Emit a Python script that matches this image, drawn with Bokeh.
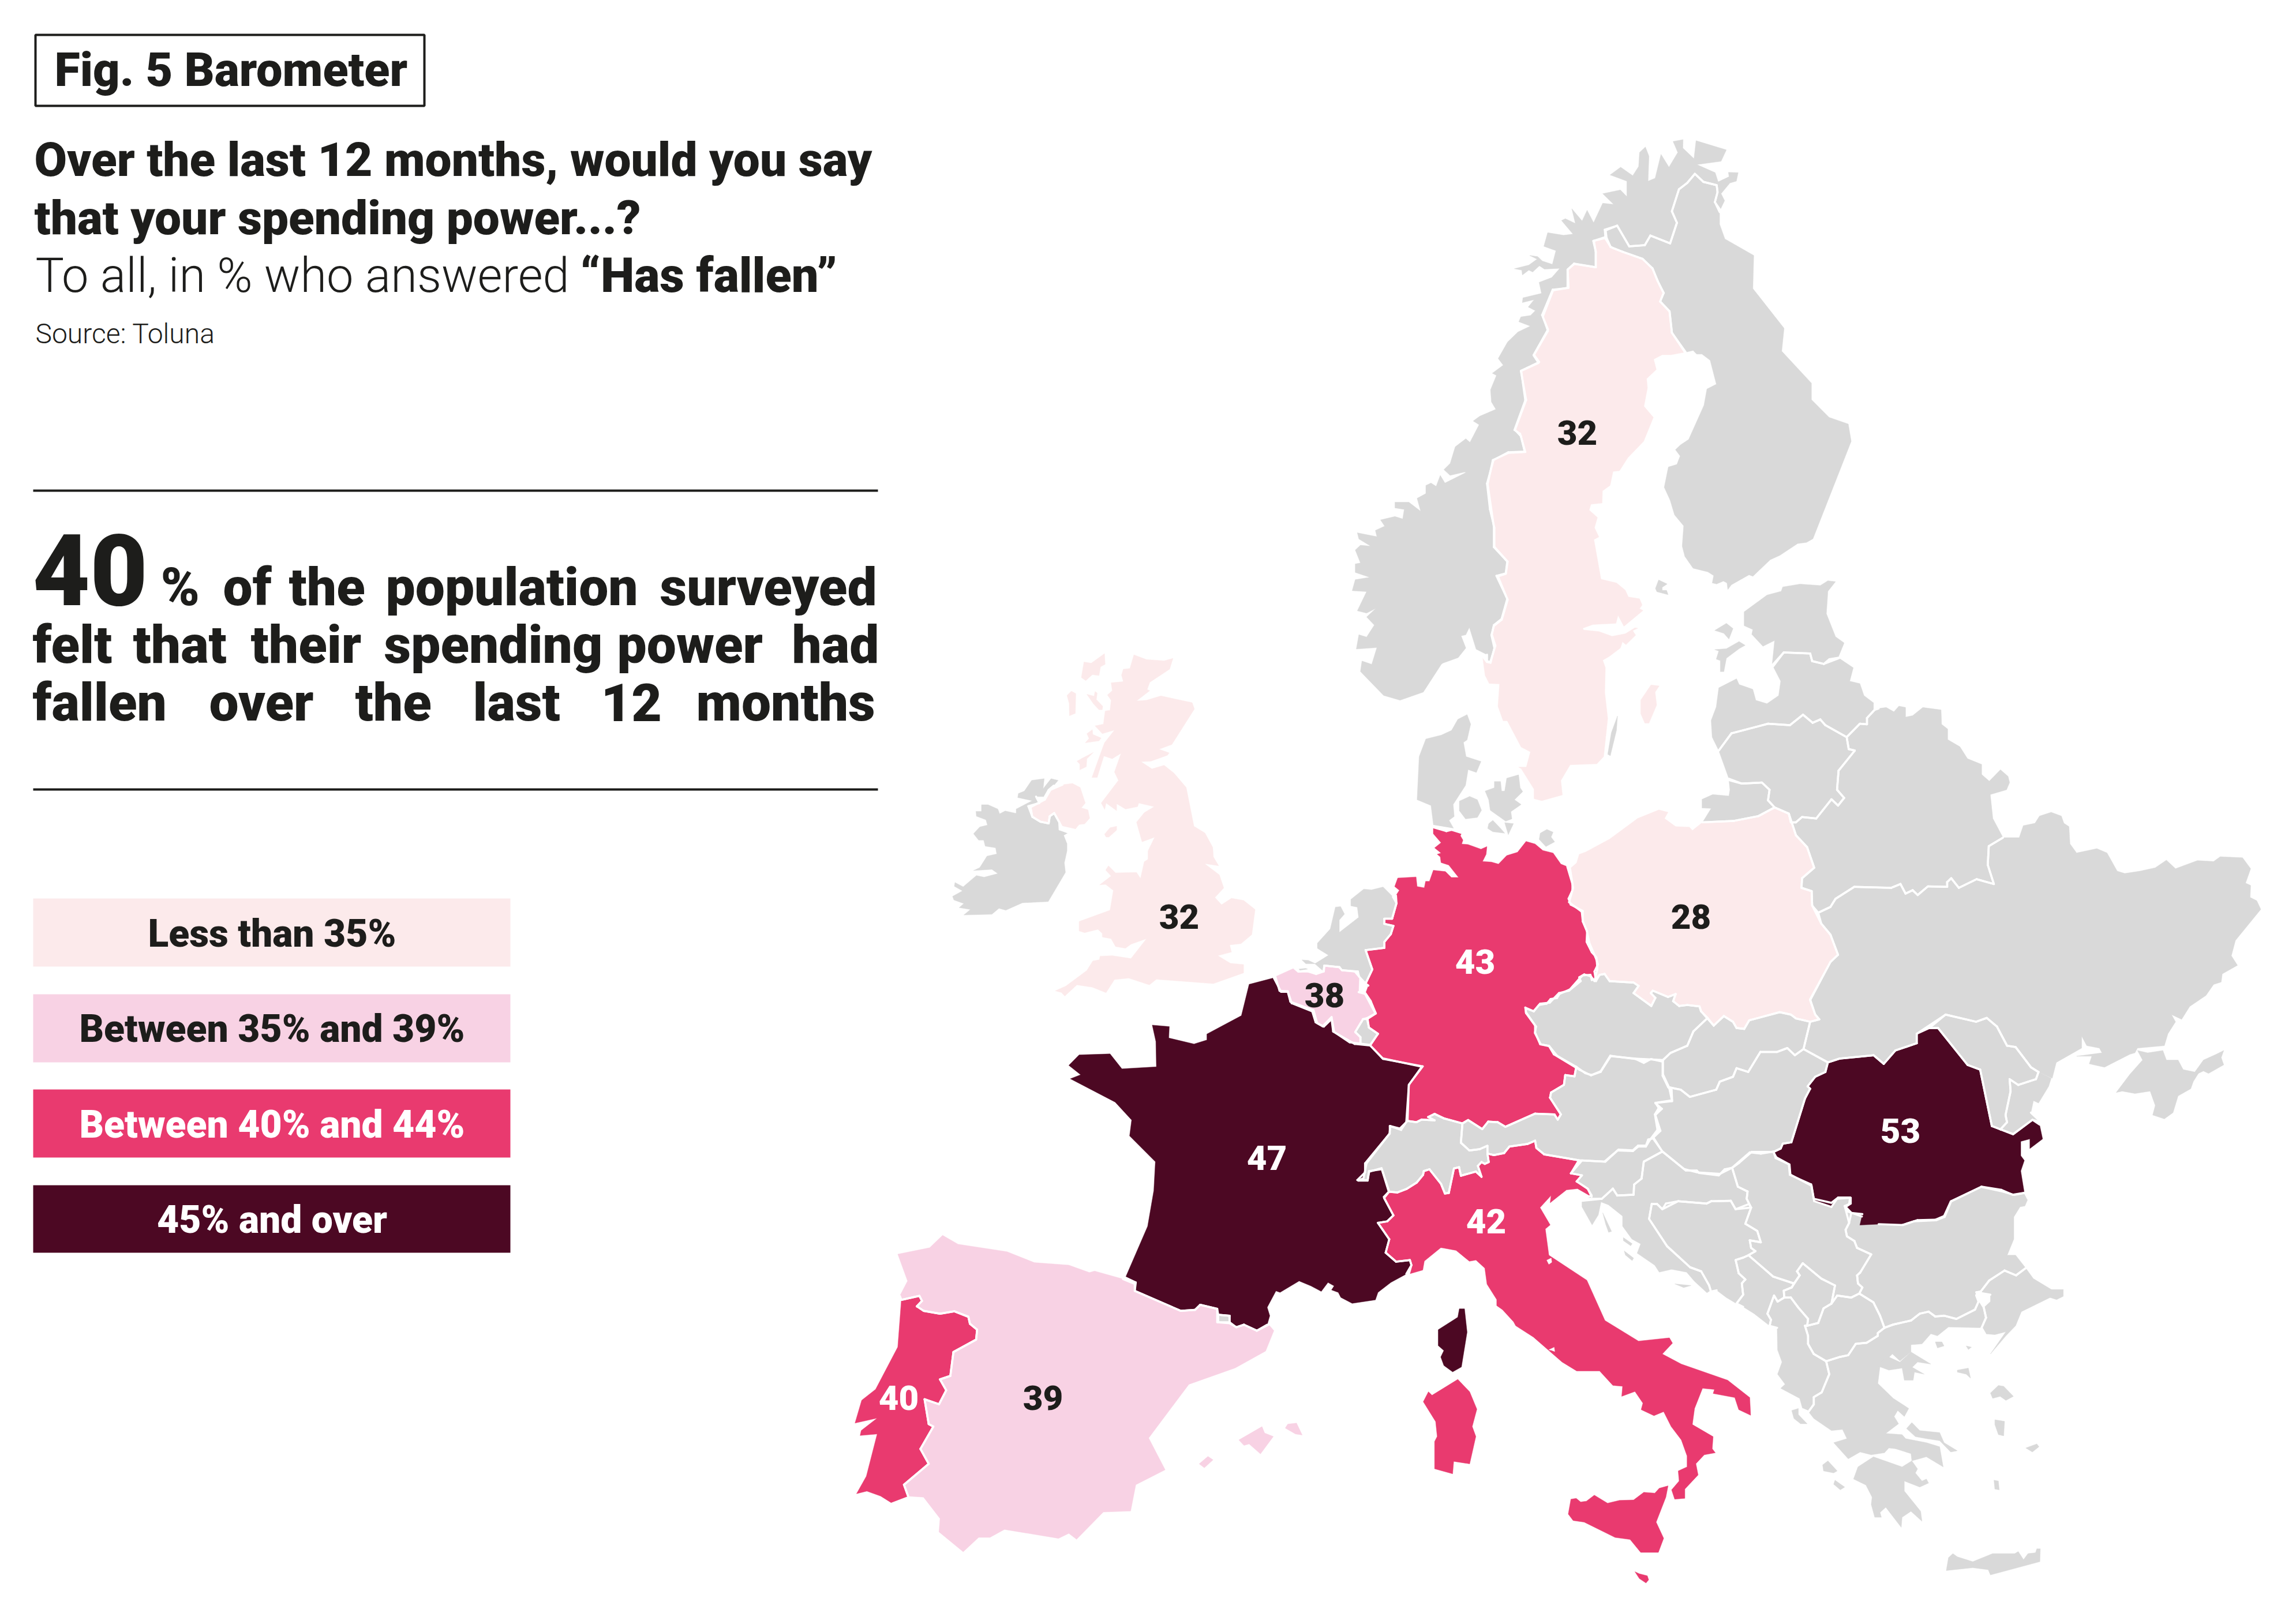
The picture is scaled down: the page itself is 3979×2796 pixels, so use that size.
import numpy as np
from bokeh.plotting import figure
from bokeh.models import ColumnDataSource, Range1d
from bokeh.core.properties import value
from bokeh.embed import file_html
from bokeh.resources import INLINE

# ---------- survey values ----------
LABELLED = ["Sweden", "UK", "Poland", "Germany", "Belgium", "France", "Italy", "Romania", "Spain", "Portugal"]
VALUES = [32, 32, 28, 43, 38, 47, 42, 53, 39, 40]
LABEL_X = [2733, 2043, 2930, 2556, 2295, 2195, 2575, 3293, 1807, 1557]
LABEL_Y = [749, 1588, 1588, 1666, 1724, 2006, 2116, 1959, 2422, 2422]

LEGEND_TEXT = ["Less than 35%", "Between 35% and 39%", "Between 40% and 44%", "45% and over"]
LEGEND_TOP = [1557, 1723, 1888, 2054]
LEGEND_BOTTOM = [1675, 1841, 2006, 2171]
LEGEND_BASE = [1642, 1807, 1973, 2138]

C_LOW, C_MIDLOW, C_MIDHIGH, C_HIGH = "#FCEAEB", "#F8D2E4", "#E93A6F", "#4C0823"
C_NA, INK = "#D9D9D9", "#1D1D1B"
BINS = [C_LOW, C_MIDLOW, C_MIDHIGH, C_HIGH]


def shade(v):
    return C_LOW if v < 35 else C_MIDLOW if v < 40 else C_MIDHIGH if v < 45 else C_HIGH


# ---------- map outlines: traced in map sheets (origin x, origin y, scale x, scale y) ----------
S2 = (1600, 200, 1.12, 1.206)
S3 = (2600, 900, 1.137, 1.206)
S4 = (1450, 1400, 1.12, 1.161)
S5 = (2500, 1700, 1.3067, 1.4307)
S7 = (2500, 200, 1.96, 1.568)
S8 = (2200, 1400, 2.24, 2.24)
S9 = (1640, 1120, 2.613, 2.412)
S10 = (2300, 2100, 1.96, 2.8)


def sh(sheet, coords):
    return [(sheet[0] + a / sheet[2], sheet[1] + b / sheet[3]) for a, b in coords]


NORWAY = sh(S7, [(782,70),(816,65),(815,88),(853,117),(860,68),(963,93),(945,124),(863,133),(925,155),(935,180),(972,166),(970,154),(1003,155),(997,178),(975,183),(945,212),(957,231),(942,256),(924,235),(933,208),(930,189),(885,180),(856,158),(830,183),(802,200),(778,260),(795,291),(772,347),(705,326),(686,352),(633,355),(592,299),(550,310),(552,330),(513,340),(519,368),(519,412),(446,402),(424,418),(427,468),(373,473),(337,542),(357,581),(308,651),(325,672),(265,694),(283,773),(245,854),(265,871),(278,913),(222,915),(172,936),(150,1000),(160,1070),(175,1120),(175,1172),(220,1212),(214,1245),(187,1252),(220,1316),(200,1370),(173,1387),(165,1412),(175,1447),(162,1487),(150,1485),(150,1465),(113,1450),(90,1391),(78,1411),(62,1414),(78,1447),(52,1473),(0,1488)]) + \
    sh(S2, [(1005,1147),(970,1205),(925,1222),(893,1212),(848,1162),(851,1140),(870,1147),(880,1112),(840,1115),(845,1085),(860,1090),(875,1065),(860,1048),(878,1030),(860,1040),(842,1035),(860,995),(832,993),(838,970),(866,965),(838,955),(838,937),(848,935),(838,908),(848,898),(868,900),(845,885),(842,872),(870,878),(880,880),(877,867),(895,858),(887,845),(915,838),(930,843),(933,823),(915,820),(915,808),(942,808),(965,827),(958,800),(975,790),(975,773),(985,768),(995,775),(1003,752),(1012,768),(1053,746),(1050,745),(1022,752),(1010,740)]) + \
    sh(S7, [(25,945),(42,900),(78,878),(92,888),(123,840),(103,830),(125,817),(180,798),(165,778),(162,745),(182,706),(168,700),(205,678),(188,660),(220,615),(255,588),(297,572),(258,560),(265,547),(298,543),(314,530),(290,520),(310,500),(270,508),(272,495),(335,483),(327,453),(370,440),(397,415),(345,417),(328,408),(305,425),(292,420),(270,433),(268,420),(243,416),(292,406),(320,390),(295,380),(322,383),(338,395),(372,404),(384,367),(343,355),(356,318),(410,325),(442,322),(403,285),(416,280),(450,293),(438,253),(473,286),(490,257),(512,291),(543,238),(580,241),(543,212),(603,202),(625,220),(625,178),(568,161),(604,140),(645,163),(665,138),(668,100),(688,85),(700,110),(697,178),(721,170),(741,105),(768,140),(798,100)])
FINLAND = sh(S7, [(856,158),(885,180),(930,189),(933,208),(924,235),(940,262),(940,295),(958,335),(1056,380),(1053,470),(1159,578),(1151,640),(1252,727),(1252,772),(1312,820),(1377,838),(1387,885),(1257,1150),(1235,1160),(1205,1163),(1145,1195),(1112,1207),(1053,1252),(1040,1248),(980,1275),(968,1288),(965,1270),(953,1265),(930,1273),(915,1270),(920,1250),(900,1240),(850,1230),(822,1198),(813,1170),(818,1115),(787,1085),(772,1045),(752,1010),(766,955),(795,948),(806,925),(790,908),(807,895),(835,880),(887,787),(897,743),(929,730),(908,665),(880,648),(862,648),(850,638),(825,643),(778,590),(770,532),(738,505),(750,482),(730,450),(712,415),(678,389),(610,370),(570,357),(556,332),(553,312),(592,299),(633,355),(686,352),(705,326),(772,347),(795,291),(778,260),(802,200),(830,183)])
ALAND = sh(S7, [(733,1262),(762,1273),(745,1282),(745,1290),(760,1290),(765,1302),(727,1294),(722,1285)])
SWEDEN = sh(S7, [(553,335),(570,357),(610,370),(678,389),(712,415),(730,450),(750,482),(738,505),(770,532),(778,590),(822,643),(775,650),(745,650),(716,662),(725,690),(692,715),(695,740),(683,790),(715,820),(682,885),(628,930),(600,965),(578,967),(568,1005),(542,1020),(541,1053),(503,1056),(497,1072),(525,1092),(515,1120),(530,1145),(513,1152),(537,1260),(590,1270),(620,1290),(630,1308),(668,1313),(677,1330),(668,1340),(680,1345),(615,1388),(595,1358),(588,1380),(510,1383),(475,1393),(478,1398),(530,1402),(575,1415),(620,1408),(652,1392),(662,1393),(645,1400),(655,1412),(622,1438),(610,1430),(603,1447),(565,1470),(543,1480),(552,1500),(550,1568)]) + \
    sh(S2, [(1328,1260),(1320,1340),(1307,1355),(1255,1357),(1237,1390),(1240,1420),(1200,1432),(1185,1428),(1185,1408),(1160,1365),(1155,1362),(1170,1362),(1178,1330),(1160,1320),(1133,1265),(1125,1265),(1115,1235),(1118,1188),(1098,1187),(1090,1170),(1085,1130),(1092,1140),(1100,1142),(1110,1108),(1103,1085),(1107,1065),(1122,1052),(1133,1010),(1112,962),(1130,957),(1133,932),(1107,902),(1107,860),(1095,770),(1105,720),(1135,705),(1168,703),(1158,665),(1147,657),(1168,595),(1160,533),(1195,515),(1185,500),(1212,450),(1202,420),(1222,365),(1250,360),(1250,322),(1263,310),(1305,317),(1305,285),(1300,262),(1325,255)])
GOTLAND = sh(S2, [(1412,1190),(1428,1192),(1420,1205),(1423,1232),(1408,1270),(1400,1270),(1392,1250),(1392,1222)])
OLAND = sh(S2, [(1347,1255),(1345,1285),(1333,1338),(1328,1335),(1335,1290)])
ESTONIA = sh(S3, [(480,193),(525,158),(553,150),(556,141),(590,135),(630,138),(645,128),(660,130),(645,150),(642,197),(660,245),(677,258),(665,289),(648,292),(637,302),(614,296),(610,280),(558,278),(535,305),(540,253),(517,265),(495,240),(497,230),(480,222)])
HIIUMAA = sh(S3, [(422,232),(445,217),(458,228),(450,250),(440,238)])
SAAREMAA = sh(S3, [(422,272),(445,270),(470,255),(482,263),(470,270),(445,290),(440,318),(433,318),(433,295),(425,292),(430,275)])
LATVIA = sh(S3, [(430,352),(465,333),(470,345),(497,355),(503,378),(525,385),(548,368),(552,338),(537,307),(558,278),(610,280),(614,296),(637,302),(667,290),(695,310),(688,338),(708,343),(716,368),(737,385),(737,398),(722,415),(722,428),(708,427),(682,455),(640,430),(630,418),(615,425),(596,408),(570,430),(527,427),(455,447),(430,483),(417,455),(415,420),(425,392)])
LITHUANIA = sh(S3, [(430,483),(455,447),(527,427),(570,430),(596,408),(615,425),(630,418),(640,430),(682,455),(686,480),(698,483),(666,525),(663,565),(677,582),(665,598),(652,585),(622,625),(594,622),(582,633),(572,633),(568,615),(540,602),(527,587),(530,565),(515,550),(475,552),(450,542)])
KALININGRAD = sh(S3, [(397,585),(418,575),(450,578),(452,565),(450,545),(475,552),(515,550),(530,565),(527,587),(540,602),(508,620),(460,630),(398,633),(415,604),(397,603)])
BELARUS = sh(S3, [(682,455),(708,427),(722,428),(722,415),(737,398),(745,395),(760,393),(775,402),(785,390),(798,393),(798,413),(812,410),(832,393),(868,398),(869,428),(881,438),(881,460),(905,475),(920,500),(948,512),(948,533),(963,547),(985,523),(1000,537),(1003,550),(997,565),(965,575),(970,625),(990,665),(962,683),(960,722),(972,762),(938,752),(903,770),(888,750),(880,758),(880,768),(842,767),(822,785),(812,775),(798,782),(788,762),(770,770),(697,768),(660,793),(650,810),(626,822),(614,807),(613,777),(593,770),(594,750),(618,728),(604,685),(582,660),(568,615),(572,633),(582,633),(594,622),(622,625),(652,585),(665,598),(677,582),(663,565),(666,525),(698,483),(686,480)])
UKRAINE = sh(S3, [(626,822),(650,810),(660,793),(697,768),(770,770),(788,762),(798,782),(812,775),(822,785),(842,767),(880,768),(880,758),(888,750),(903,770),(938,752),(972,762),(960,722),(962,683),(990,665),(1022,665),(1030,640),(1053,635),(1062,620),(1085,612),(1105,620),(1110,635),(1120,642),(1122,678),(1135,697),(1175,688),(1195,697),(1215,735),(1230,740),(1260,735),(1290,728),(1312,712),(1330,730),(1350,722),(1373,713),(1405,715),(1418,705),(1462,707),(1478,730),(1468,760),(1478,765),(1477,790),(1490,797),(1498,815),(1448,880),(1440,912),(1452,932),(1422,950),(1420,967),(1405,972),(1390,995),(1358,1018),(1342,1045),(1322,1035),(1330,1050),(1315,1075),(1308,1100),(1255,1105),(1250,1115),(1240,1118),(1190,1145),(1160,1138),(1165,1122),(1135,1122),(1185,1115),(1180,1105),(1155,1100),(1145,1080),(1145,1105),(1095,1135),(1087,1168),(1060,1155),(1045,1145),(1015,1103),(998,1100),(978,1060),(958,1042),(937,1050),(877,1035),(820,1075),(820,1095),(778,1110),(755,1138),(735,1120),(668,1127),(645,1135),(597,1107),(610,1050),(628,1045),(620,1035),(610,1005),(650,925),(665,910),(650,868),(632,845)])
CRIMEA = sh(S3, [(1255,1110),(1275,1115),(1305,1110),(1312,1130),(1335,1130),(1345,1150),(1368,1155),(1385,1130),(1410,1118),(1425,1110),(1420,1125),(1425,1140),(1395,1158),(1385,1153),(1375,1158),(1365,1175),(1360,1190),(1335,1205),(1325,1240),(1308,1253),(1285,1245),(1290,1225),(1280,1195),(1250,1200),(1225,1195),(1213,1198),(1240,1160),(1265,1130)])
BUDJAK = sh(S3, [(1003,1170),(1020,1182),(1040,1175),(1055,1170),(1060,1155),(1085,1168),(1080,1185),(1060,1220),(1050,1215),(1045,1240),(1065,1260),(1048,1255),(1010,1285),(985,1275),(998,1260),(995,1245),(1005,1195)])
MOLDOVA = sh(S3, [(877,1035),(937,1050),(958,1042),(978,1060),(998,1100),(1015,1103),(1045,1145),(1060,1155),(1055,1170),(1040,1175),(1020,1182),(1003,1170),(1005,1195),(995,1245),(998,1260),(985,1275),(968,1268),(945,1150),(920,1140),(862,1063),(845,1063)])
ROMANIA = sh(S3, [(645,1135),(668,1127),(735,1120),(755,1138),(778,1110),(820,1095),(820,1075),(845,1063),(862,1063),(920,1140),(945,1150),(968,1268),(985,1275),(1010,1285),(1048,1255),(1062,1265),(1068,1295),(1043,1315),(1043,1295),(1025,1300),(1025,1330),(1032,1340),(1025,1362),(1032,1408),(1012,1412),(990,1405),(947,1395),(888,1425),(875,1458),(858,1465),(815,1467),(793,1475),(745,1473),(708,1475),(712,1457),(685,1447),(680,1437),(690,1430),(690,1418),(663,1420),(652,1437),(618,1425),(612,1390),(570,1370),(568,1348),(542,1335),(538,1322),(552,1315),(556,1305),(573,1302),(600,1210),(610,1190),(605,1185),(620,1165),(640,1155)])
POLAND = sh(S3, [(168,695),(215,668),(270,625),(312,607),(330,612),(323,625),(345,642),(372,643),(378,650),(398,633),(460,630),(508,620),(540,602),(568,615),(582,660),(604,685),(618,728),(594,750),(593,770),(613,777),(614,807),(632,845),(650,868),(665,910),(650,925),(610,1003),(620,1035),(628,1045),(610,1050),(582,1043),(572,1035),(550,1030),(490,1047),(480,1065),(465,1063),(458,1050),(440,1038),(420,1058),(405,1040),(395,1028),(392,1018),(368,1015),(352,1017),(340,1007),(345,992),(330,998),(300,985),(296,990),(305,1000),(297,1017),(262,990),(272,975),(262,968),(215,965),(205,950),(195,952),(188,965),(185,945),(192,930),(187,915),(175,885),(170,860),(162,840),(160,820),(135,800),(143,770),(137,730),(150,718),(155,700)])
GERMANY = sh(S8, [(635,75),(685,90),(705,85),(745,97),(740,108),(750,125),(745,140),(770,142),(820,160),(843,150),(840,180),(826,208),(860,210),(888,218),(920,185),(962,172),(995,130),(1030,140),(1060,165),(1100,175),(1130,218),(1155,228),(1175,295),(1175,320),(1160,352),(1168,375),(1215,400),(1215,440),(1232,480),(1230,520),(1250,560),(1268,580),(1272,625),(1262,665),(1250,668),(1245,648),(1215,650),(1200,665),(1165,705),(1125,722),(1115,738),(1090,742),(1075,760),(1045,765),(1025,790),(992,775),(995,797),(1030,845),(1030,875),(1052,918),(1085,925),(1115,962),(1190,1005),(1183,1042),(1147,1037),(1142,1075),(1092,1105),(1088,1125),(1130,1190),(1118,1210),(1105,1190),(1030,1187),(915,1238),(885,1220),(848,1218),(825,1247),(770,1212),(748,1225),(675,1205),(640,1188),(615,1200),(640,1213),(590,1210),(570,1220),(535,1215),(540,1075),(590,1005),(438,972),(390,922),(420,877),(385,853),(378,820),(412,798),(400,770),(392,750),(372,720),(383,690),(372,682),(398,627),(372,552),(445,543),(445,520),(470,490),(480,458),(445,450),(445,430),(475,430),(492,370),(490,340),(503,320),(485,305),(497,272),(568,268),(572,305),(600,310),(605,285),(620,285),(635,242),(682,247),(705,270),(733,270),(695,222),(665,212),(662,190),(650,180),(665,175),(640,155),(665,135),(635,100)])
NETHERLANDS = sh(S8, [(185,525),(235,470),(255,385),(275,383),(290,412),(270,435),(270,483),(345,425),(340,385),(315,380),(315,355),(365,315),(395,318),(440,307),(478,345),(492,370),(475,430),(445,430),(445,450),(480,458),(470,490),(445,520),(445,543),(372,552),(398,627),(372,682),(347,655),(342,635),(280,630),(270,618),(212,612),(210,635),(175,605),(228,572),(185,545)])
ZEELAND_A = sh(S8, [(105,622),(140,618),(190,640),(180,642),(150,630),(115,635)])
ZEELAND_B = sh(S8, [(125,590),(150,592),(178,605),(140,605)])
BELGIUM = sh(S8, [(22,655),(95,622),(110,635),(150,635),(180,645),(208,635),(212,612),(270,618),(280,630),(330,635),(347,655),(345,715),(370,722),(395,770),(410,798),(380,815),(362,820),(332,870),(352,890),(352,915),(310,910),(250,870),(240,812),(205,848),(178,832),(165,790),(85,758),(70,712),(38,710)])
LUXEMBOURG = sh(S8, [(362,820),(380,820),(385,853),(420,877),(390,920),(352,915),(352,890),(332,870)])
FRANCE = sh(S4, [(800,355),(848,342),(862,370),(875,370),(880,390),(925,407),(932,433),(945,440),(960,425),(963,450),(1005,475),(1035,478),(1060,505),(1137,520),(1110,557),(1105,632),(1095,648),(1073,640),(1073,655),(1028,715),(1022,745),(1012,750),(1030,750),(1033,732),(1057,725),(1072,772),(1062,785),(1080,820),(1068,832),(1050,835),(1072,868),(1065,895),(1085,913),(1112,910),(1115,920),(1105,938),(1075,955),(1050,975),(1045,990),(1000,997),(978,985),(973,975),(960,970),(965,962),(953,955),(940,973),(920,962),(897,952),(860,975),(852,972),(835,1005),(840,1022),(835,1040),(815,1052),(790,1040),(775,1045),(762,1035),(762,1022),(740,1020),(738,1008),(705,1000),(695,1010),(667,1012),(578,972),(580,955),(560,945),(603,842),(615,770),(618,712),(568,660),(572,628),(540,592),(453,545),(473,537),(450,518),(470,497),(530,495),(553,525),(620,521),(619,470),(612,437),(645,440),(644,463),(693,475),(718,467),(718,455),(785,418)])
CORSICA = sh(S4, [(1208,1008),(1218,1008),(1223,1055),(1212,1125),(1195,1135),(1178,1122),(1172,1105),(1178,1092),(1167,1082),(1167,1050),(1205,1025)])
SARDINIA = sh(S4, [(1205,1150),(1228,1175),(1242,1210),(1233,1245),(1240,1265),(1228,1320),(1197,1315),(1195,1340),(1160,1330),(1160,1275),(1165,1265),(1162,1235),(1138,1195),(1148,1175),(1155,1182)])
SPAIN = sh(S4, [(118,898),(180,885),(205,860),(235,878),(330,893),(383,915),(450,920),(490,935),(500,932),(555,948),(578,958),(578,972),(667,1012),(695,1010),(705,1000),(738,1008),(738,1035),(762,1037),(775,1045),(790,1040),(815,1052),(838,1040),(848,1052),(832,1093),(773,1127),(683,1160),(605,1268),(637,1332),(580,1362),(570,1415),(517,1417),(465,1472),(450,1460),(430,1470),(325,1452),(297,1468),(275,1468),(245,1497),(198,1457),(200,1430),(168,1387),(138,1385),(130,1362),(178,1320),(162,1290),(187,1245),(178,1240),(170,1190),(198,1200),(212,1172),(200,1150),(220,1143),(226,1095),(270,1070),(272,1050),(258,1038),(255,1024),(228,1013),(200,1018),(168,1012),(155,1003),(165,992),(160,982),(125,990),(122,982),(137,952)])
PORTUGAL = sh(S4, [(125,990),(160,982),(165,992),(155,1003),(168,1012),(200,1018),(228,1013),(255,1024),(258,1038),(272,1050),(270,1070),(226,1095),(220,1143),(200,1150),(212,1172),(198,1200),(170,1190),(178,1240),(187,1245),(162,1290),(178,1320),(130,1362),(138,1385),(105,1398),(85,1385),(58,1375),(38,1380),(57,1345),(78,1260),(45,1263),(47,1253),(78,1228),(35,1238),(48,1192),(75,1170),(118,1085)])
ANDORRA = sh(S4, [(740,1020),(762,1022),(762,1035),(740,1035)])
MALLORCA = sh(S4, [(780,1272),(825,1245),(830,1258),(847,1265),(822,1300),(800,1280),(790,1283)])
MENORCA = sh(S4, [(875,1240),(892,1238),(903,1262),(890,1260),(870,1248)])
IBIZA = sh(S4, [(703,1320),(720,1305),(730,1312),(713,1328)])
ITALY = sh(S8, [(443,1510),(462,1490),(495,1493),(530,1480),(570,1455),(595,1425),(598,1410),(620,1403),(665,1460),(680,1497),(695,1495),(715,1400),(735,1395),(742,1428),(800,1412),(822,1432),(808,1390),(822,1375),(835,1382),(850,1375),(845,1342),(870,1348),(910,1340),(930,1315),(1000,1305),(1030,1292),(1035,1320),(1065,1345),(1200,1368)]) + \
    sh(S5, [(290,477),(315,482),(303,497),(328,515),(337,535),(305,515),(280,518),(243,550),(245,532),(220,562),(243,605),(232,615),(240,680),(326,742),(367,842),(443,893),(513,885),(520,898),(497,925),(540,950),(645,990),(695,1033),(697,1077),(670,1063),(661,1033),(612,1023),(615,1013),(588,1010),(570,1060),(565,1100),(612,1130),(610,1160),(617,1170),(592,1175),(573,1197),(578,1225),(548,1260),(548,1283),(525,1285),(518,1262),(535,1240),(533,1215),(553,1205),(553,1178),(540,1138),(517,1105),(500,1068),(478,1078),(449,1063),(453,1047),(435,1018),(405,1030),(407,1005),(385,1003),(355,967),(303,967),(270,945),(205,883),(165,855),(160,845),(135,815),(122,805),(122,790),(100,752),(95,712),(75,692),(60,695),(30,668),(0,662)]) + \
    sh(S4, [(1172,885),(1140,912),(1137,930),(1110,938),(1115,920),(1112,910),(1085,913),(1065,895),(1072,868),(1050,835),(1068,832),(1080,820),(1062,785)])
SICILY = sh(S5, [(290,1285),(302,1283),(312,1292),(325,1290),(343,1275),(373,1295),(400,1288),(432,1287),(455,1268),(480,1270),(490,1258),(510,1252),(505,1280),(483,1342),(500,1382),(488,1417),(448,1417),(424,1385),(390,1380),(320,1342),(295,1338),(284,1322)])
MALTA = sh(S5, [(435,1465),(445,1470),(463,1475),(466,1485),(460,1493),(445,1482)])
SWITZERLAND = sh(S8, [(535,1215),(570,1220),(590,1210),(640,1213),(615,1200),(640,1188),(675,1205),(748,1225),(742,1300),(775,1330),(815,1325),(845,1312),(845,1342),(850,1375),(835,1382),(822,1375),(808,1390),(822,1432),(800,1412),(742,1428),(735,1395),(715,1400),(695,1495),(680,1497),(665,1460),(620,1403),(598,1410),(595,1425),(570,1455),(530,1480),(495,1493),(462,1490),(435,1403),(385,1410),(380,1445),(340,1445),(370,1415),(370,1380),(465,1265),(468,1235),(505,1245)])
AUSTRIA = sh(S8, [(748,1225),(770,1212),(825,1247),(848,1218),(885,1220),(915,1238),(1030,1187),(1105,1190),(1118,1210),(1130,1190),(1088,1125),(1092,1105),(1142,1075),(1147,1037),(1183,1042),(1190,1005),(1225,1030),(1250,1037),(1285,1022),(1322,962),(1420,975),(1452,990),(1480,975),(1525,985),(1525,1040),(1547,1085),(1560,1095),(1562,1135),(1497,1145),(1510,1165),(1495,1190),(1505,1250),(1475,1290),(1460,1315),(1430,1315),(1410,1332),(1350,1330),(1300,1373),(1200,1368),(1065,1345),(1035,1320),(1030,1292),(1000,1305),(930,1315),(910,1340),(870,1348),(845,1342),(845,1312),(815,1325),(775,1330),(742,1300)])
CZECHIA = sh(S3, [(50,1022),(65,1028),(78,1012),(97,1010),(115,990),(135,985),(158,965),(155,957),(165,951),(178,955),(185,965),(195,952),(205,950),(215,965),(262,968),(272,975),(262,990),(297,1017),(305,1000),(296,990),(300,985),(330,998),(345,992),(340,1007),(352,1017),(368,1015),(392,1018),(395,1028),(408,1042),(380,1070),(368,1100),(335,1115),(320,1130),(265,1127),(217,1122),(197,1155),(178,1162),(155,1150),(105,1118),(95,1100),(78,1097),(68,1072),(70,1060),(50,1030)])
SLOVAKIA = sh(S3, [(408,1042),(420,1058),(440,1038),(458,1050),(465,1063),(480,1065),(490,1047),(550,1030),(572,1035),(582,1043),(610,1050),(597,1107),(580,1120),(565,1105),(545,1113),(512,1113),(488,1155),(465,1147),(458,1165),(432,1175),(425,1192),(373,1207),(355,1192),(332,1187),(320,1160),(320,1130),(335,1115),(368,1100),(380,1070)])
HUNGARY = sh(S3, [(332,1187),(355,1192),(373,1207),(425,1192),(432,1175),(458,1165),(465,1147),(488,1155),(512,1113),(545,1113),(565,1105),(580,1120),(597,1107),(645,1135),(640,1155),(620,1165),(605,1185),(610,1190),(600,1210),(573,1302),(556,1305),(552,1315),(538,1322),(495,1322),(470,1345),(457,1355),(432,1368),(388,1365),(362,1358),(318,1320),(300,1293),(315,1278),(305,1245),(318,1232),(305,1220),(338,1216)])
SLOVENIA = sh(S5, [(315,445),(368,448),(398,418),(430,420),(442,408),(460,408),(465,393),(478,390),(497,423),(455,448),(450,490),(433,505),(432,530),(395,532),(385,515),(360,540),(315,540),(337,532),(328,515),(303,497),(315,482),(290,477)])
CROATIA = sh(S5, [(497,423),(550,470),(575,470),(580,476),(625,482),(638,467),(655,463),(668,510),(690,522),(688,540),(698,562),(663,566),(652,545),(608,546),(597,552),(533,546),(497,566),(485,553),(473,553),(467,590),(508,658),(560,710),(585,720),(603,755),(607,770),(600,775),(570,745),(552,722),(518,715),(490,722),(480,705),(440,675),(448,652),(428,640),(407,608),(407,583),(375,555),(358,548),(352,580),(338,605),(315,560),(315,545),(360,540),(385,515),(395,532),(432,530),(433,505),(450,490),(455,448)])
BOSNIA = sh(S5, [(467,590),(473,553),(485,553),(497,566),(505,552),(533,546),(597,552),(608,546),(652,545),(663,566),(693,553),(698,562),(685,602),(712,620),(720,648),(695,643),(698,662),(708,670),(692,680),(680,686),(663,692),(670,725),(685,740),(677,750),(680,778),(665,800),(642,785),(620,767),(607,770),(603,755),(585,720),(560,710),(508,658)])
SERBIA = sh(S5, [(655,463),(672,447),(695,425),(720,428),(748,423),(755,437),(785,455),(787,480),(835,508),(840,540),(880,550),(895,537),(922,537),(920,553),(910,558),(925,575),(920,600),(912,617),(915,633),(932,645),(938,662),(970,678),(945,723),(938,730),(940,750),(950,760),(943,775),(925,785),(893,780),(880,800),(888,755),(857,738),(815,700),(802,720),(808,730),(795,750),(748,733),(692,680),(708,670),(698,662),(695,643),(720,648),(712,620),(685,602),(698,562),(688,540),(690,522),(668,510)])
KOSOVO = sh(S5, [(815,700),(857,738),(888,755),(880,800),(862,812),(850,848),(825,855),(827,838),(805,810),(788,785),(773,785),(772,768),(790,760),(808,730),(802,720)])
MONTENEGRO = sh(S5, [(663,692),(680,686),(692,680),(748,733),(795,750),(790,760),(772,768),(773,785),(758,795),(750,780),(735,825),(743,840),(740,855),(705,825),(680,808),(665,800),(680,778),(677,750),(685,740),(670,725)])
MACEDONIA = sh(S5, [(825,855),(850,848),(862,812),(880,800),(893,780),(925,785),(943,775),(975,797),(990,830),(1000,860),(985,873),(985,880),(960,897),(935,900),(918,928),(900,932),(868,943),(840,925),(827,900),(827,880),(820,855)])
ALBANIA = sh(S5, [(740,855),(743,840),(735,825),(750,780),(758,795),(773,785),(788,785),(805,810),(827,838),(825,855),(820,855),(827,880),(827,900),(840,925),(868,943),(875,975),(858,1020),(840,1032),(840,1050),(828,1068),(815,1062),(808,1035),(765,1010),(775,1000),(758,975),(768,945),(758,915),(757,860)])
BULGARIA = sh(S5, [(910,558),(925,575),(950,578),(1040,605),(1075,593),(1115,592),(1135,583),(1150,547),(1220,510),(1265,518),(1290,530),(1318,525),(1325,540),(1318,558),(1307,560),(1293,585),(1293,640),(1278,680),(1297,680),(1320,712),(1298,730),(1272,718),(1237,743),(1218,770),(1210,772),(1208,780),(1213,795),(1205,815),(1163,838),(1135,830),(1115,832),(1100,820),(1080,825),(1060,842),(1020,852),(1000,860),(990,830),(975,797),(943,775),(950,760),(940,750),(938,730),(945,723),(970,678),(938,662),(932,645),(915,633),(912,617),(920,600)])
TURKEY = sh(S5, [(1208,772),(1218,770),(1237,743),(1272,718),(1298,730),(1320,712),(1337,738),(1378,765),(1405,765),(1405,782),(1390,790),(1375,785),(1310,820),(1297,855),(1275,880),(1240,925),(1275,870),(1250,877),(1228,875),(1220,860),(1230,835),(1225,810),(1240,795),(1240,778)])
GREECE = sh(S5, [(868,943),(900,932),(918,928),(935,900),(960,897),(985,880),(985,873),(1000,860),(1020,852),(1060,842),(1080,825),(1100,820),(1115,832),(1135,830),(1163,838),(1205,815),(1213,795),(1208,780),(1225,810),(1230,835),(1220,860),(1145,858),(1120,880),(1105,875),(1085,900),(1060,902),(1060,920),(1035,942),(1018,925),(990,955),(985,998),(1020,1035),(1055,1060),(1045,1080),(1030,1065),(1022,1080),(1032,1098),(1003,1122),(1040,1125),(1048,1135),(1095,1145),(1125,1155),(1133,1205),(1095,1180),(1062,1190),(1060,1172),(1025,1160),(1010,1158),(1000,1170),(970,1175),(945,1168),(918,1185),(885,1145),(915,1135),(905,1112),(880,1115),(840,1085),(828,1068),(840,1050),(840,1032),(858,1020),(875,975)])
HALKIDIKI = sh(S5, [(1005,930),(1035,945),(1060,920),(1105,950),(1075,945),(1063,958),(1090,975),(1068,970),(1065,990),(1045,990),(1040,960),(1010,965),(985,955)])
PELOPONNESE = sh(S5, [(930,1235),(940,1205),(975,1180),(1040,1205),(1062,1190),(1075,1210),(1070,1220),(1085,1240),(1095,1235),(1100,1245),(1080,1255),(1045,1240),(1045,1265),(1082,1315),(1085,1340),(1060,1315),(1040,1330),(1038,1355),(1012,1318),(1003,1305),(990,1318),(993,1330),(978,1330),(970,1298),(972,1280),(958,1250)])
EVIA = sh(S5, [(1050,1110),(1062,1095),(1080,1115),(1125,1120),(1135,1145),(1165,1165),(1150,1168),(1125,1140),(1095,1135),(1070,1130)])
CRETE = sh(S5, [(1145,1430),(1155,1420),(1165,1428),(1200,1440),(1245,1420),(1295,1420),(1303,1415),(1315,1435),(1325,1420),(1342,1418),(1345,1408),(1353,1408),(1352,1440),(1240,1473),(1235,1460),(1200,1455),(1140,1462)])
THASSOS = sh(S5, [(1115,895),(1130,895),(1135,905),(1120,910)])
SAMOTHRACE = sh(S5, [(1185,905),(1197,908),(1190,914)])
LEMNOS = sh(S5, [(1165,965),(1190,960),(1195,985),(1185,975),(1165,970)])
LESBOS = sh(S5, [(1240,1022),(1258,1003),(1270,1005),(1292,1030),(1275,1040),(1262,1030),(1245,1035)])
CHIOS = sh(S5, [(1250,1088),(1272,1092),(1270,1128),(1258,1125),(1250,1100)])
CORFU = sh(S5, [(790,1065),(805,1060),(805,1075),(825,1098),(810,1098),(795,1085)])
CEPHALONIA = sh(S5, [(860,1200),(872,1190),(893,1215),(885,1220),(862,1215)])
ZAKYNTHOS = sh(S5, [(888,1238),(910,1255),(900,1262),(885,1248)])
SAMOS = sh(S5, [(1320,1158),(1345,1148),(1350,1155),(1335,1168)])
IKARIA = sh(S5, [(1248,1238),(1258,1240),(1260,1262),(1250,1260)])
HVAR = sh(S10, [(1180,350),(1235,358),(1210,368)])
KRK = sh(S10, [(1005,125),(1035,155),(1030,165),(1005,140)])
RAB = sh(S10, [(1008,190),(1040,225),(1035,237),(1012,210)])
CRES = sh(S10, [(935,5),(950,50),(965,95),(955,100),(945,60)])
JUTLAND = sh(S2, [(975,1303),(1005,1295),(1025,1285),(1037,1262),(1055,1252),(1062,1272),(1055,1305),(1048,1310),(1053,1340),(1082,1350),(1073,1373),(1057,1367),(1052,1400),(1028,1440),(1030,1465),(1020,1473),(1030,1492),(990,1485),(985,1442),(958,1430),(962,1340)])
FUNEN = sh(S2, [(1040,1433),(1060,1423),(1075,1430),(1083,1452),(1075,1467),(1052,1470),(1040,1453)])
ZEALAND = sh(S2, [(1090,1412),(1108,1405),(1108,1392),(1120,1392),(1122,1412),(1128,1412),(1132,1385),(1155,1378),(1158,1405),(1163,1413),(1147,1430),(1160,1440),(1140,1455),(1142,1470),(1130,1475),(1100,1452),(1097,1430)])
LOLLAND = sh(S2, [(1097,1480),(1105,1473),(1120,1490),(1128,1500),(1105,1497),(1095,1490)])
FALSTER = sh(S2, [(1128,1478),(1145,1480),(1135,1503)])
BORNHOLM = sh(S2, [(1197,1500),(1210,1492),(1222,1498),(1218,1508),(1225,1518),(1208,1528),(1195,1513)])
BRITAIN = sh(S9, [(848,35),(905,55),(985,60),(1025,50),(1010,95),(920,150),(908,180),(920,185),(860,228),(905,225),(970,207),(1112,235),(1122,262),(1020,410),(962,430),(1008,445),(1000,455),(925,480),(880,482),(930,512),(985,497),(1030,530),(1085,590),(1120,752),(1170,780),(1205,840),(1208,880),(1232,917),(1168,908),(1235,955),(1255,1010),(1215,1050),(1245,1080),(1290,1053),(1345,1062),(1397,1100),(1382,1205),(1333,1243),(1282,1248),(1290,1278),(1228,1293),(1285,1325),(1345,1330),(1345,1365),(1208,1410),(1070,1400),(950,1392),(918,1415),(825,1387),(760,1393),(722,1448),(660,1425),(590,1415),(535,1462),(520,1447),(492,1440),(540,1420),(635,1355),(662,1315),(692,1310),(695,1295),(750,1293),(835,1305),(905,1222),(835,1245),(810,1262),(765,1255),(745,1222),(705,1215),(705,1200),(685,1183),(625,1197),(600,1190),(600,1150),(740,1103),(755,1020),(720,995),(693,997),(745,960),(720,935),(733,917),(765,947),(860,945),(878,970),(895,900),(912,890),(912,855),(942,798),(885,817),(860,735),(895,695),(940,670),(870,655),(865,670),(810,680),(770,658),(770,687),(722,655),(716,682),(700,655),(778,560),(760,525),(790,447),(750,470),(712,458),(682,548),(658,548),(700,440),(715,403),(760,350),(705,365),(672,332),(710,325),(718,270),(740,267),(745,225),(728,203),(750,185),(745,152),(800,147),(792,120),(800,95),(830,92)])
LEWIS = sh(S9, [(622,65),(655,70),(715,30),(718,75),(697,85),(690,122),(660,118),(630,143),(610,130)])
SKYE = sh(S9, [(635,200),(668,208),(672,188),(682,195),(678,222),(707,250),(705,265),(690,265),(665,240)])
UIST = sh(S9, [(545,205),(565,187),(585,197),(583,280),(556,290),(555,238)])
MULL = sh(S9, [(635,365),(660,348),(662,368),(700,383),(690,395),(628,403),(645,385)])
ISLAY = sh(S9, [(590,480),(615,467),(665,443),(635,470),(633,503),(603,516),(603,492)])
N_IRELAND = sh(S9, [(380,672),(445,640),(470,600),(525,578),(570,573),(605,590),(628,655),(610,675),(640,683),(648,718),(625,742),(600,745),(580,767),(522,755),(510,735),(487,697),(467,710),(462,740),(425,733),(388,712)])
MAN = sh(S9, [(715,785),(740,758),(770,752),(770,768),(735,797),(722,797)])
IRELAND = sh(S9, [(385,560),(442,553),(437,595),(473,553),(505,560),(485,582),(462,600),(445,628),(405,628),(420,655),(370,668),(388,712),(425,733),(462,740),(467,710),(487,697),(510,735),(512,765),(552,778),(530,790),(545,825),(545,855),(533,905),(538,945),(460,1067),(343,1072),(268,1103),(237,1095),(205,1120),(78,1123),(108,1100),(57,1092),(78,1075),(33,1060),(27,1045),(72,1022),(35,1003),(38,987),(75,1005),(135,958),(170,965),(232,950),(205,932),(122,937),(150,925),(183,877),(227,868),(222,842),(175,835),(168,810),(145,810),(122,783),(150,755),(185,747),(178,725),(135,710),(133,690),(158,690),(158,662),(188,662),(232,680),(240,700),(265,688),(315,698),(315,680),(388,645),(322,632),(325,615),(352,605)])
# small lagoons cut out of the Italian coast
LAGOON_N = sh(S10, [(745,235),(760,225),(762,245),(752,255)])
LAGOON_W = sh(S10, [(752,670),(770,658),(772,678),(760,672)])

# every country is one group, so that only true land borders get a white line
NOT_SURVEYED = [[NORWAY], [FINLAND, ALAND], [OLAND], [ESTONIA, HIIUMAA, SAAREMAA], [LATVIA], [LITHUANIA], [KALININGRAD], [BELARUS], [UKRAINE, CRIMEA, BUDJAK], [MOLDOVA], [NETHERLANDS, ZEELAND_A, ZEELAND_B], [LUXEMBOURG], [ANDORRA], [SWITZERLAND], [AUSTRIA], [CZECHIA], [SLOVAKIA], [HUNGARY], [SLOVENIA], [CROATIA, HVAR, KRK, RAB, CRES], [BOSNIA], [SERBIA], [KOSOVO], [MONTENEGRO], [MACEDONIA], [ALBANIA], [BULGARIA], [TURKEY], [GREECE, HALKIDIKI, PELOPONNESE, EVIA, CRETE, THASSOS, SAMOTHRACE, LEMNOS, LESBOS, CHIOS, CORFU, CEPHALONIA, ZAKYNTHOS, SAMOS, IKARIA], [JUTLAND, FUNEN, ZEALAND, LOLLAND, FALSTER, BORNHOLM], [IRELAND]]
SURVEYED = {
    "Sweden": [SWEDEN, GOTLAND],
    "UK": [BRITAIN, LEWIS, SKYE, UIST, MULL, ISLAY, N_IRELAND, MAN],
    "Poland": [POLAND],
    "Germany": [GERMANY],
    "Belgium": [BELGIUM],
    "France": [FRANCE, CORSICA],
    "Italy": [ITALY, SARDINIA, SICILY, MALTA],
    "Romania": [ROMANIA],
    "Spain": [SPAIN, MALLORCA, MENORCA, IBIZA],
    "Portugal": [PORTUGAL],
}

# ---------- texts ----------
TITLE_BOX = "Fig. 5 Barometer"
QUESTION = ["Over the last 12 months, would you say", "that your spending power...?"]
SUBTITLE_A = "To all, in % who answered"
SUBTITLE_B = "\u201cHas fallen\u201d"
SOURCE = "Source: Toluna"
BIG_NUMBER = "40"
KEY_WORDS = [
    ("%", 278, 1050), ("of", 386, 1050), ("the", 500, 1050), ("population", 668, 1050), ("surveyed", 1143, 1050),
    ("felt", 56, 1150), ("that", 230, 1150), ("their", 434, 1150), ("spending", 665, 1150), ("power", 1069, 1150), ("had", 1372, 1150),
    ("fallen", 56, 1250), ("over", 362, 1250), ("the", 615, 1250), ("last", 819, 1250), ("12", 1041, 1250), ("months", 1206, 1250),
]

# ---------- figure ----------
p = figure(width=3963, height=2780, x_range=Range1d(0, 3963), y_range=Range1d(2780, 0),
           x_axis_type=None, y_axis_type=None, toolbar_location=None, output_backend="svg",
           min_border=0, outline_line_color=None, background_fill_color="white", border_fill_color="white")
p.grid.visible = False


def draw(polys, color):
    src = ColumnDataSource(dict(xs=[[q[0] for q in poly] for poly in polys], ys=[[q[1] for q in poly] for poly in polys]))
    p.patches("xs", "ys", source=src, fill_color=color, line_color=color, line_width=0.5)


for group in NOT_SURVEYED:
    draw(group, C_NA)
for name, v in zip(LABELLED, VALUES):
    draw(SURVEYED[name], shade(v))
p.patches("xs", "ys", source=ColumnDataSource(dict(
    xs=[[q[0] for q in LAGOON_N], [q[0] for q in LAGOON_W]],
    ys=[[q[1] for q in LAGOON_N], [q[1] for q in LAGOON_W]])), fill_color="white", line_color="white", line_width=0.5)

# white land borders: polygon edges that run along an edge of another country
groups = NOT_SURVEYED + [SURVEYED[n] for n in LABELLED]


def edges(poly):
    a = np.array(poly, dtype=float)
    return a, np.roll(a, -1, axis=0)


group_edges = []
for g in groups:
    starts, ends = zip(*[edges(poly) for poly in g])
    group_edges.append((np.vstack(starts), np.vstack(ends)))

border_xs, border_ys = [], []
for i, g in enumerate(groups):
    others_a = np.vstack([group_edges[j][0] for j in range(len(groups)) if j != i])
    others_b = np.vstack([group_edges[j][1] for j in range(len(groups)) if j != i])
    d = others_b - others_a
    dd = np.maximum((d * d).sum(axis=1), 1e-9)
    for poly in g:
        a, b = edges(poly)
        for s, e in zip(a, b):
            m = (s + e) / 2
            t = np.clip(((m - others_a) * d).sum(axis=1) / dd, 0, 1)
            near = others_a + d * t[:, None] - m
            if np.sqrt((near * near).sum(axis=1)).min() < 7:
                border_xs.append([s[0], e[0]])
                border_ys.append([s[1], e[1]])

p.multi_line("xs", "ys", source=ColumnDataSource(dict(xs=border_xs, ys=border_ys)),
             line_color="white", line_width=3.5, line_cap="round")

HEAVY = "Roboto Black"
LIGHT = "Roboto Light"
BASE_K = 0.36


def txt(x, y, s, size, color=INK, font=HEAVY, align="left"):
    src = ColumnDataSource(dict(x=[x], y=[y - BASE_K * size], t=[s]))
    p.text("x", "y", text="t", source=src, text_font=value(font), text_font_style="normal",
           text_font_size=value(f"{size}px"), text_color=color, text_align=align, text_baseline="alphabetic")


# figure tag
p.quad(left=[61], right=[735], top=[60], bottom=[183], fill_color="white", line_color=INK, line_width=4)
txt(94, 150, TITLE_BOX, 81)
txt(59, 306, QUESTION[0], 82)
txt(59, 407, QUESTION[1], 82)
txt(61, 507, SUBTITLE_A, 83, font=LIGHT)
txt(1005, 507, SUBTITLE_B, 83)
txt(61, 595, SOURCE, 48, font=LIGHT)

# key finding
p.segment(x0=[57, 57], x1=[1521, 1521], y0=[850, 1368], y1=[850, 1368], line_color=INK, line_width=4)
txt(56, 1049, BIG_NUMBER, 172)
for w, x, y in KEY_WORDS:
    txt(x, y, w, 91)

# legend
p.quad(left=[57] * 4, right=[884] * 4, top=LEGEND_TOP, bottom=LEGEND_BOTTOM, fill_color=BINS, line_color=None)
for s, b, col in zip(LEGEND_TEXT, LEGEND_BASE, [INK, INK, "white", "white"]):
    txt(471, b, s, 66, color=col, align="center")

# map labels
for v, x, y in zip(VALUES, LABEL_X, LABEL_Y):
    txt(x, y + 22, str(v), 60, color=INK if v < 40 else "white", align="center")

open("out.html", "w").write(file_html(p, INLINE))
